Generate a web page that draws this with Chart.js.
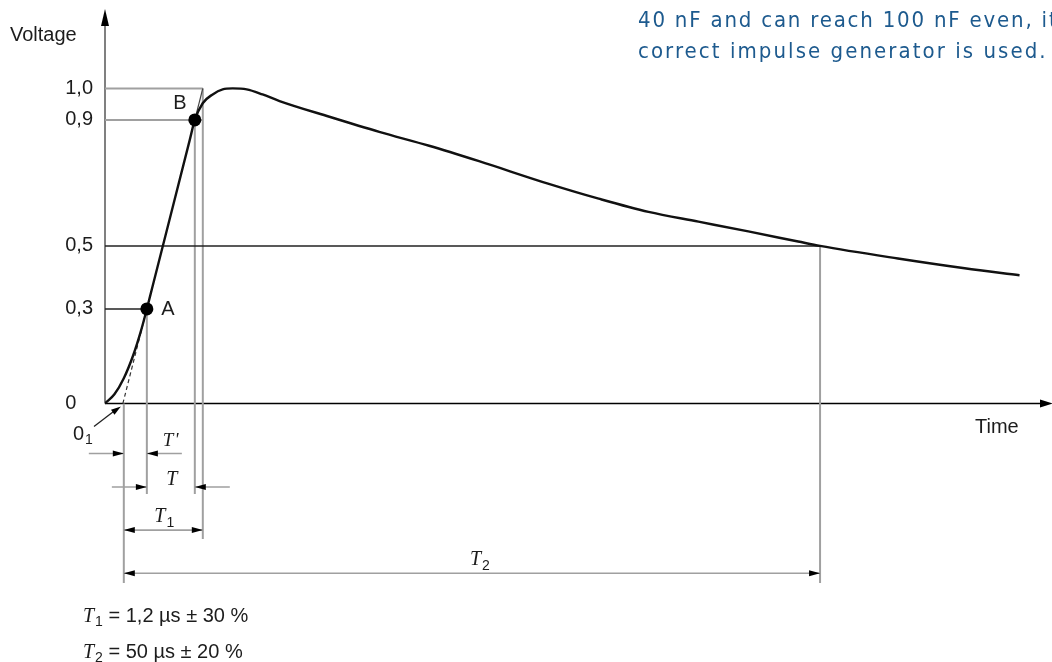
<!DOCTYPE html>
<html>
<head>
<meta charset="utf-8">
<title>Lightning impulse</title>
<script src="https://cdn.jsdelivr.net/npm/chart.js@4.4.1/dist/chart.umd.min.js"></script>
<style>
    html, body { margin: 0; padding: 0; background: #fff; overflow: hidden; }
    #wrap { position: relative; width: 1052px; height: 662px; }
    #note {
        position: absolute; left: 638px; top: 4px;
        white-space: nowrap; color: #1d5a8e;
        font-family: "DejaVu Sans Condensed", "Liberation Sans Narrow", sans-serif;
        font-size: 22px; line-height: 31px;
    }
    #note .l1 { letter-spacing: 1.8px; }
    #note .l2 { letter-spacing: 2.06px; }
</style>
</head>
<body>
<div id="wrap">
    <canvas id="impulseChart"></canvas>
    <div id="note"><span class="l1">40 nF and can reach 100 nF even, it</span><br><span class="l2">correct impulse generator is used.</span></div>
</div>
<script>
// === DATA ===
const yTicks = [0, 0.3, 0.5, 0.9, 1.0];
const yTickLabels = ["0", "0,3", "0,5", "0,9", "1,0"];

// impulse shape (time in arbitrary units, voltage per unit of crest)
const curveTime = [0, 1.0, 2.0, 3.0, 3.8, 4.45, 5.0, 9.0, 9.55, 10.39, 11.45, 12.51, 13.57, 15.06, 16.75,
    18.56, 23.86, 29.16, 34.46, 39.77, 47.19, 52.49, 57.79, 63.1, 68.4, 73.7, 76.03, 84.31, 91.41, 97.24];
const curveVoltage = [0, 0.029, 0.08, 0.153, 0.228, 0.3, 0.365, 0.835, 0.9, 0.953, 0.981, 0.997, 1.0, 0.997, 0.981,
    0.96, 0.91, 0.862, 0.818, 0.769, 0.697, 0.65, 0.608, 0.577, 0.546, 0.514, 0.5, 0.46, 0.429, 0.407];

// points A (30 %) and B (90 %)
const markerTime = [4.45, 9.55];
const markerVoltage = [0.3, 0.9];
const markerNames = ["A", "B"];

// straight front through A and B: virtual origin 0_1 ... crest level
const frontTime = [1.9, 4.45, 9.55, 10.4];
const frontVoltage = [0, 0.3, 0.9, 1.0];

// horizontal level lines
const levelValue = [1.0, 0.9, 0.5, 0.3];
const levelEnd = [10.4, 10.4, 76.03, 4.45];

// vertical guide lines
const guideTime = [2.0, 4.45, 9.55, 10.4, 76.03];
const guideTop = [0, 0.3, 0.9, 1.0, 0.5];
const guideBottom = [-0.57, -0.287, -0.287, -0.43, -0.57];

// dimension arrows T', T, T1, T2
const dimSuffix = ["'", "", "1", "2"];
const dimFrom = [2.0, 4.45, 2.0, 2.0];
const dimTo = [4.45, 9.55, 10.4, 76.03];
const dimLevel = [-0.159, -0.265, -0.402, -0.539];

const formulaSub = ["1", "2"];
const formulaText = [" = 1,2 \u00b5s \u00b1 30 %", " = 50 \u00b5s \u00b1 20 %"];

// === HELPERS ===
const SANS = "'Liberation Sans', Arial, sans-serif";
const SERIF = "'Liberation Serif', 'Times New Roman', serif";
const INK = "#1c1c1c";
const GUIDE = "#a0a0a0";

const toPoints = (xs, ys) => xs.map((x, i) => ({ x, y: ys[i] }));

function arrowHead(ctx, x, y, angle, len, half) {
    ctx.save();
    ctx.translate(x, y);
    ctx.rotate(angle);
    ctx.beginPath();
    ctx.moveTo(0, 0);
    ctx.lineTo(-len, -half);
    ctx.lineTo(-len, half);
    ctx.closePath();
    ctx.fillStyle = "#000";
    ctx.fill();
    ctx.restore();
}

// italic T with prime or subscript digit
function drawSymbolT(ctx, x, y, size, suffix, align) {
    const mainFont = "italic " + size + "px " + SERIF;
    const subFont = Math.round(size * 0.72) + "px " + SANS;
    ctx.font = mainFont;
    const wT = ctx.measureText("T").width;
    let wS = 0;
    if (suffix === "'") {
        wS = ctx.measureText("'").width + 1;
    } else if (suffix) {
        ctx.font = subFont;
        wS = ctx.measureText(suffix).width + 1;
    }
    const left = align === "center" ? x - (wT + wS) / 2 : x;
    ctx.textAlign = "left";
    ctx.textBaseline = "alphabetic";
    ctx.font = mainFont;
    ctx.fillText("T", left, y);
    if (suffix === "'") {
        ctx.fillText("'", left + wT + 1, y);
    } else if (suffix) {
        ctx.font = subFont;
        ctx.fillText(suffix, left + wT + 1, y + size * 0.22);
    }
    return left + wT + wS;
}

// === DATASETS ===
const datasets = [];
datasets.push({
    data: toPoints(markerTime, markerVoltage),
    showLine: false, pointRadius: 6.5, pointBackgroundColor: "#000", pointBorderWidth: 0
});
datasets.push({
    data: toPoints(curveTime, curveVoltage),
    borderColor: "#111", borderWidth: 2.4, pointRadius: 0, cubicInterpolationMode: "monotone"
});
datasets.push({
    data: toPoints(frontTime.slice(0, 2), frontVoltage.slice(0, 2)),
    borderColor: "#333", borderWidth: 1.2, borderDash: [4, 3], pointRadius: 0
});
datasets.push({
    data: toPoints(frontTime.slice(2), frontVoltage.slice(2)),
    borderColor: "#444", borderWidth: 1.2, pointRadius: 0
});
levelValue.forEach((v, i) => {
    datasets.push({
        data: [{ x: 0, y: v }, { x: levelEnd[i], y: v }],
        borderColor: v >= 0.9 ? GUIDE : "#222", borderWidth: v >= 0.9 ? 2 : 1.5, pointRadius: 0
    });
});
guideTime.forEach((t, i) => {
    datasets.push({
        data: [{ x: t, y: guideTop[i] }, { x: t, y: guideBottom[i] }],
        borderColor: GUIDE, borderWidth: 2, pointRadius: 0
    });
});

// === DRAWING PLUGIN ===
const diagramPlugin = {
    id: "diagram",
    beforeDraw(chart) {
        const ctx = chart.ctx;
        ctx.save();
        ctx.fillStyle = "#fff";
        ctx.fillRect(0, 0, chart.width, chart.height);
        ctx.restore();
    },
    beforeDatasetsDraw(chart) {
        const { ctx, scales: { x, y } } = chart;
        const x0 = x.getPixelForValue(0);
        const y0 = y.getPixelForValue(0);
        ctx.save();
        // voltage axis
        ctx.strokeStyle = "#808080";
        ctx.lineWidth = 2;
        ctx.beginPath();
        ctx.moveTo(x0, y0);
        ctx.lineTo(x0, 22);
        ctx.stroke();
        arrowHead(ctx, x0, 9, -Math.PI / 2, 17, 4);
        // time axis
        ctx.strokeStyle = "#000";
        ctx.lineWidth = 1.6;
        ctx.beginPath();
        ctx.moveTo(x0, y0);
        ctx.lineTo(chart.width - 10, y0);
        ctx.stroke();
        arrowHead(ctx, chart.width + 1, y0, 0, 13, 4);
        ctx.restore();
    },
    afterDatasetsDraw(chart) {
        const { ctx, scales: { x, y } } = chart;
        const px = (t) => x.getPixelForValue(t);
        const py = (v) => y.getPixelForValue(v);
        ctx.save();

        // dimension arrows
        dimSuffix.forEach((suffix, i) => {
            const x1 = px(dimFrom[i]);
            const x2 = px(dimTo[i]);
            const yy = py(dimLevel[i]);
            ctx.strokeStyle = GUIDE;
            ctx.lineWidth = 1.6;
            ctx.beginPath();
            if (i < 2) {
                ctx.moveTo(x1 - 35, yy); ctx.lineTo(x1, yy);
                ctx.moveTo(x2, yy); ctx.lineTo(x2 + 35, yy);
                ctx.stroke();
                arrowHead(ctx, x1, yy, 0, 11, 3);
                arrowHead(ctx, x2, yy, Math.PI, 11, 3);
            } else {
                ctx.moveTo(x1, yy); ctx.lineTo(x2, yy);
                ctx.stroke();
                arrowHead(ctx, x1, yy, Math.PI, 11, 3);
                arrowHead(ctx, x2, yy, 0, 11, 3);
            }
            ctx.fillStyle = INK;
            if (i === 0) drawSymbolT(ctx, x2 + 16, yy - 8, 19, suffix, "left");
            else if (i === 1) drawSymbolT(ctx, (x1 + x2) / 2 + 1, yy - 2, 20, suffix, "center");
            else if (i === 2) drawSymbolT(ctx, (x1 + x2) / 2 + 1, yy - 8, 20, suffix, "center");
            else drawSymbolT(ctx, (x1 + x2) / 2 + 8, yy - 8, 20, suffix, "center");
        });

        ctx.fillStyle = INK;
        ctx.font = "20px " + SANS;

        // A and B
        ctx.textAlign = "center";
        ctx.textBaseline = "middle";
        ctx.fillText(markerNames[0], px(markerTime[0]) + 21, py(markerVoltage[0]) + 1);
        ctx.fillText(markerNames[1], px(markerTime[1]) - 15, py(markerVoltage[1]) - 16);

        // axis titles
        ctx.textAlign = "left";
        ctx.textBaseline = "alphabetic";
        ctx.fillText("Voltage", 10, 41);
        ctx.fillText("Time", 975, py(0) + 30);

        // virtual origin 0_1 with pointer
        const ox = px(frontTime[0]);
        const oy = py(0);
        ctx.fillText("0", 73, oy + 37);
        ctx.font = "14px " + SANS;
        ctx.fillText("1", 85, oy + 41);
        ctx.strokeStyle = "#222";
        ctx.lineWidth = 1.3;
        ctx.beginPath();
        ctx.moveTo(94, oy + 23);
        ctx.lineTo(ox - 8, oy + 7);
        ctx.stroke();
        arrowHead(ctx, ox - 2, oy + 3, Math.atan2(-20, 28), 10, 3);

        // formulas
        formulaSub.forEach((sub, i) => {
            const base = 622 + i * 36;
            ctx.fillStyle = INK;
            const end = drawSymbolT(ctx, 83, base, 20, sub, "left");
            ctx.font = "20px " + SANS;
            ctx.textAlign = "left";
            ctx.fillText(formulaText[i], end, base);
        });

        ctx.restore();
    }
};

// === CHART ===
document.addEventListener("DOMContentLoaded", () => {
    const ctx = document.getElementById("impulseChart").getContext("2d");
    new Chart(ctx, {
        type: "line",
        data: { datasets },
        options: {
            responsive: true,
            maintainAspectRatio: false,
            animation: false,
            layout: { padding: { left: 0, right: 4, top: 0, bottom: 0 } },
            plugins: { legend: { display: false }, tooltip: { enabled: false } },
            elements: { line: { tension: 0 } },
            scales: {
                x: { type: "linear", min: 0, max: 100, display: false },
                y: {
                    type: "linear",
                    min: -0.8,
                    max: 1.26,
                    grid: { display: false, drawTicks: false },
                    border: { display: false },
                    ticks: {
                        autoSkip: false,
                        padding: 12,
                        color: INK,
                        font: { family: SANS, size: 20 },
                        callback: (v) => {
                            const i = yTicks.indexOf(v);
                            if (i < 0) return "";
                            // the zero label sits a little further left in the original
                            return v === 0 ? yTickLabels[i] + "   " : yTickLabels[i];
                        },
                    },
                    afterBuildTicks: (scale) => {
                        scale.ticks = yTicks.map((v) => ({ value: v }));
                    },
                    afterFit: (scale) => {
                        scale.width = 105;
                        scale.paddingTop = 0;
                        scale.paddingBottom = 0;
                    },
                },
            },
        },
        plugins: [diagramPlugin],
    });
});
</script>
</body>
</html>
